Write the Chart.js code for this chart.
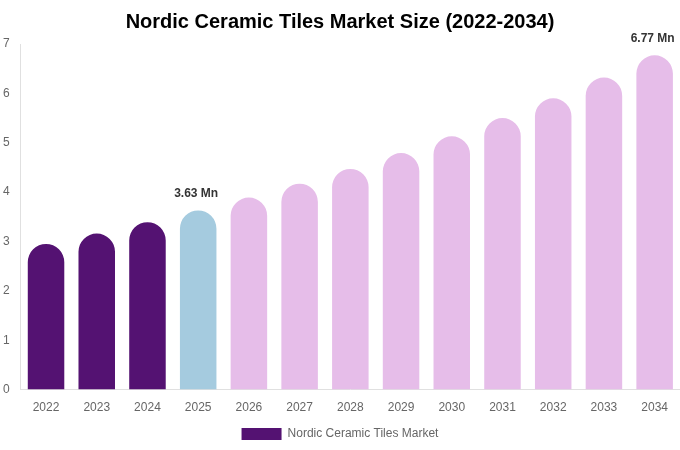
<!DOCTYPE html>
<html>
<head>
<meta charset="utf-8">
<script src="https://cdn.jsdelivr.net/npm/chart.js@4/dist/chart.umd.min.js"></script>
<style>
html,body{margin:0;padding:0;background:#fff;}
#wrap{width:680px;height:450px;position:relative;}
</style>
</head>
<body>
<div id="wrap"><canvas id="c"></canvas></div>
<script>
const years = ['2022','2023','2024','2025','2026','2027','2028','2029','2030','2031','2032','2033','2034'];
const marketSize = [2.95, 3.16, 3.39, 3.63, 3.89, 4.17, 4.47, 4.79, 5.13, 5.50, 5.90, 6.32, 6.77];
const labelledBars = {3: '3.63 Mn', 12: '6.77 Mn'};
const seriesName = 'Nordic Ceramic Tiles Market';
const titleText = 'Nordic Ceramic Tiles Market Size (2022-2034)';

const colHist = '#541272';
const colBase = '#a5cbdf';
const colFcst = '#e6bde9';
const barColors = years.map((y, i) => i < 3 ? colHist : (i === 3 ? colBase : colFcst));

const valueLabels = {
  id: 'valueLabels',
  afterDatasetsDraw(chart) {
    const ctx = chart.ctx;
    const meta = chart.getDatasetMeta(0);
    ctx.save();
    ctx.font = 'bold 12px "Liberation Sans", Arial, sans-serif';
    ctx.fillStyle = '#333';
    ctx.textAlign = 'center';
    ctx.textBaseline = 'bottom';
    Object.keys(labelledBars).forEach(k => {
      const el = meta.data[+k];
      ctx.fillText(labelledBars[k], el.x - 2, el.y - 11);
    });
    ctx.restore();
  }
};

Chart.defaults.font.family = '"Liberation Sans", Arial, sans-serif';
new Chart(document.getElementById('c'), {
  type: 'bar',
  data: {
    labels: years,
    datasets: [{
      label: seriesName,
      data: marketSize,
      backgroundColor: barColors,
      borderRadius: 100,
      borderSkipped: 'start'
    }]
  },
  options: {
    responsive: true,
    maintainAspectRatio: false,
    animation: false,
    layout: {padding: {left: 0, right: 0, top: 0, bottom: 0}},
    plugins: {
      title: {
        display: true,
        text: titleText,
        color: '#000',
        font: {size: 20, weight: 'bold'},
        padding: {top: 10, bottom: 10}
      },
      legend: {
        position: 'bottom',
        labels: {color: '#666', font: {size: 12}, boxWidth: 40, boxHeight: 12}
      },
      tooltip: {enabled: false}
    },
    scales: {
      x: {
        grid: {display: false},
        border: {display: true, color: '#e0e0e0'},
        ticks: {color: '#666', font: {size: 12}}
      },
      y: {
        min: 0, max: 7,
        grid: {display: false},
        border: {display: true, color: '#e0e0e0'},
        ticks: {stepSize: 1, color: '#666', font: {size: 12}}
      }
    }
  },
  plugins: [valueLabels]
});
</script>
</body>
</html>
